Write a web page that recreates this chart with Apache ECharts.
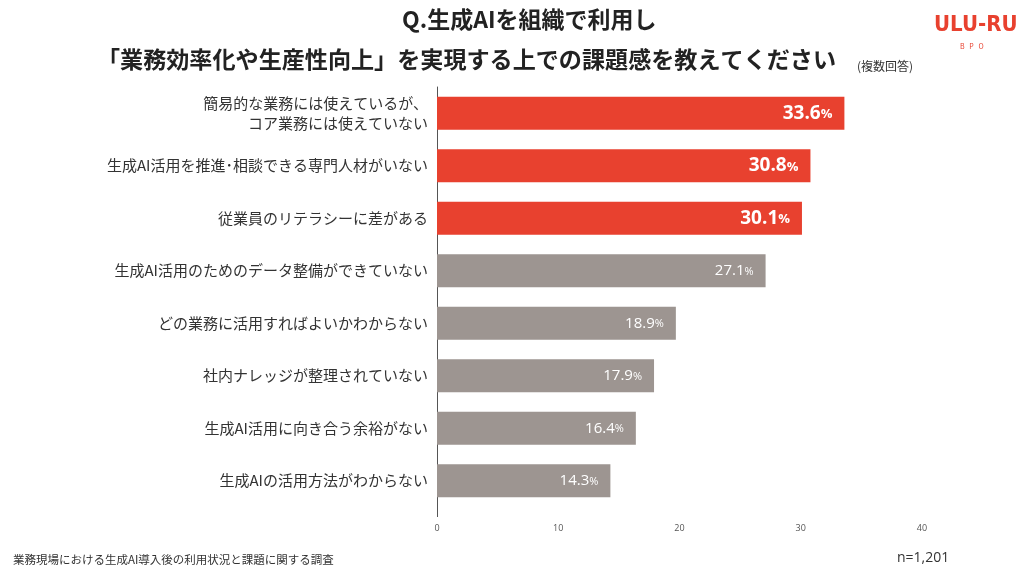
<!DOCTYPE html>
<html><head><meta charset="utf-8">
<script src="https://cdn.jsdelivr.net/npm/echarts@6/dist/echarts.min.js"></script>
<style>html,body{margin:0;padding:0;background:#fff}#c{width:1024px;height:574px}</style>
</head><body><div id="c"></div>
<script>
const categories = [
  "簡易的な業務には使えているが、\nコア業務には使えていない",
  "生成AI活用を推進･相談できる専門人材がいない",
  "従業員のリテラシーに差がある",
  "生成AI活用のためのデータ整備ができていない",
  "どの業務に活用すればよいかわからない",
  "社内ナレッジが整理されていない",
  "生成AI活用に向き合う余裕がない",
  "生成AIの活用方法がわからない"
];
// bar lengths as drawn in the picture
const barValues = [33.6, 30.8, 30.1, 27.1, 19.7, 17.9, 16.4, 14.3];
// value labels as printed on the bars
const valueLabels = ["33.6", "30.8", "30.1", "27.1", "18.9", "17.9", "16.4", "14.3"];
const highlightCount = 3;
const xTicks = [0, 10, 20, 30, 40];

const RED = '#E8412F', GRAY = '#9D9591';
const font = '"Noto Sans CJK JP", "Noto Sans", sans-serif';
const chart = echarts.init(document.getElementById('c'));
chart.setOption({
  backgroundColor: '#fff',
  animation: false,
  grid: {left: 437, right: 102, top: 87, bottom: 67, containLabel: false},
  title: [
    {text: 'Q.生成AIを組織で利用し', left: 397, top: 3,
     textStyle: {fontFamily: font, fontSize: 23, fontWeight: 'bold', color: '#222'}},
    {text: '「業務効率化や生産性向上」を実現する上での課題感を教えてください', left: 92, top: 43,
     textStyle: {fontFamily: font, fontSize: 23.1, fontWeight: 'bold', color: '#222'}},
    {text: '(複数回答)', left: 852, top: 55,
     textStyle: {fontFamily: font, fontSize: 12, fontWeight: 'normal', color: '#333'}},
    {text: 'ULU-RU', left: 929, top: 9,
     textStyle: {fontFamily: '"DejaVu Sans Condensed", "DejaVu Sans", sans-serif', fontSize: 22, fontWeight: 'bold', color: '#E8412F'}},
    {text: 'B   P   O', left: 955, top: 38,
     textStyle: {fontFamily: font, fontSize: 7, fontWeight: 'normal', color: '#E8412F'}},
    {text: '業務現場における生成AI導入後の利用状況と課題に関する調査', left: 8, top: 549,
     textStyle: {fontFamily: font, fontSize: 11.5, fontWeight: 'normal', color: '#333'}},
    {text: 'n=1,201', left: 892, top: 546,
     textStyle: {fontFamily: '"Open Sans", sans-serif', fontSize: 14, fontWeight: 'normal', color: '#333'}}
  ],
  xAxis: {
    type: 'value', min: 0, max: 40, interval: 10,
    axisLine: {show: false},
    axisTick: {show: true, customValues: [0], length: 10, lineStyle: {color: '#555'}},
    splitLine: {lineStyle: {color: '#e3e3e3', width: 1}},
    axisLabel: {fontFamily: '"Open Sans", sans-serif', fontSize: 9, color: '#555', margin: 17,
      formatter: v => xTicks.includes(v) ? String(v) : ''}
  },
  yAxis: {
    type: 'category', data: categories, inverse: true,
    axisLine: {show: true, lineStyle: {color: '#555', width: 1}},
    axisTick: {show: false},
    axisLabel: {fontFamily: font, fontSize: 15, color: '#333', margin: 9, lineHeight: 20, align: 'right'}
  },
  series: [{
    type: 'bar',
    barCategoryGap: '37%',
    data: barValues.map((v, i) => ({
      value: v,
      itemStyle: {color: i < highlightCount ? RED : GRAY},
      label: i < highlightCount ? {
        formatter: '{big|' + valueLabels[i] + '}{pb|%}'
      } : {
        formatter: '{n|' + valueLabels[i] + '}{ps|%}'
      }
    })),
    label: {
      show: true, position: 'insideRight', distance: 12,
      rich: {
        big: {fontFamily: '"Open Sans", sans-serif', fontSize: 19, fontWeight: 'bold', color: '#fff'},
        pb: {fontFamily: '"Open Sans", sans-serif', fontSize: 13, fontWeight: 'bold', color: '#fff', padding: [3,0,0,0]},
        n: {fontFamily: '"Open Sans", sans-serif', fontSize: 15, color: '#fff'},
        ps: {fontFamily: '"Open Sans", sans-serif', fontSize: 11, color: '#fff', padding: [2,0,0,0]}
      }
    }
  }]
});
</script></body></html>
